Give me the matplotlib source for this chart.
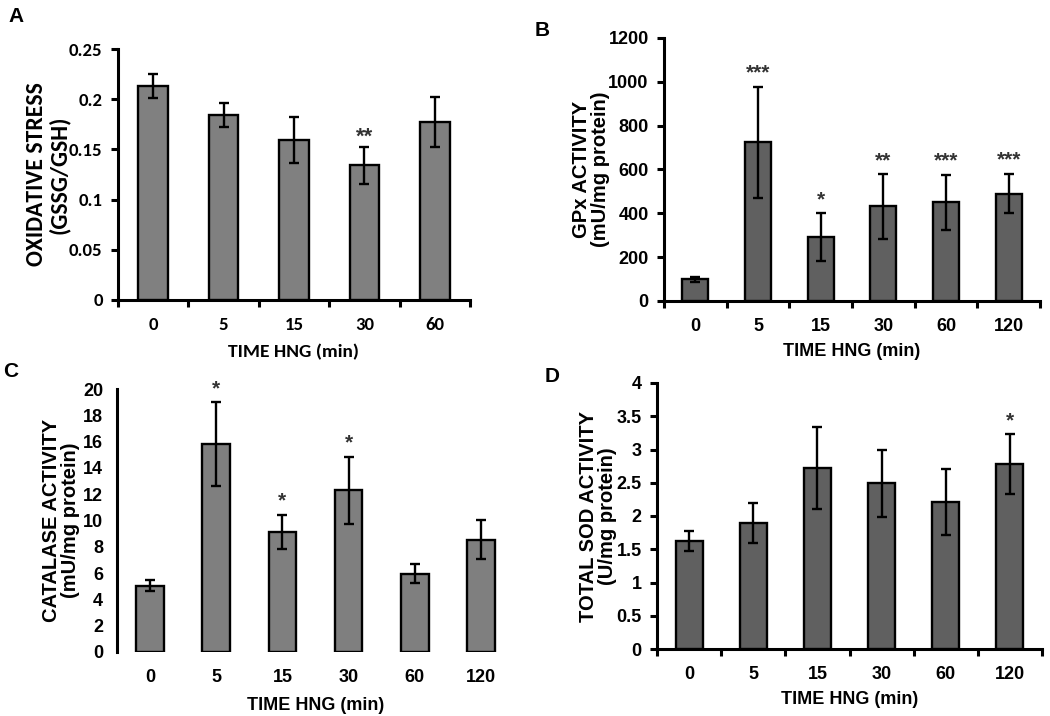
import matplotlib
matplotlib.use("Agg")
import matplotlib.pyplot as plt
from matplotlib import font_manager
from matplotlib.ticker import FixedLocator, NullFormatter

# ---------------- data ----------------
cats_a = ["0", "5", "15", "30", "60"]
vals_a = [0.213, 0.184, 0.159, 0.134, 0.177]
errs_a = [0.012, 0.012, 0.023, 0.018, 0.025]
stars_a = ["", "", "", "**", ""]

cats_b = ["0", "5", "15", "30", "60", "120"]
vals_b = [99, 725, 292, 432, 450, 490]
errs_b = [12, 253, 108, 147, 127, 90]
stars_b = ["", "***", "*", "**", "***", "***"]

cats_c = ["0", "5", "15", "30", "60", "120"]
vals_c = [5.05, 15.8, 9.15, 12.3, 5.95, 8.55]
errs_c = [0.42, 3.2, 1.3, 2.55, 0.72, 1.5]
stars_c = ["", "*", "*", "*", "", ""]

cats_d = ["0", "5", "15", "30", "60", "120"]
vals_d = [1.63, 1.90, 2.72, 2.49, 2.21, 2.78]
errs_d = [0.15, 0.30, 0.62, 0.50, 0.50, 0.45]
stars_d = ["", "", "", "", "", "*"]

# ---------------- fonts ----------------
avail = {f.name for f in font_manager.fontManager.ttflist}
def pick(*names):
    for n in names:
        if n in avail:
            return n
    return "DejaVu Sans"
FONT_A = pick("Carlito", "Lato", "Open Sans")
FONT_N = pick("Liberation Sans Narrow", "Liberation Sans", "Arial")

W, H = 1050, 716
fig = plt.figure(figsize=(W / 100, H / 100), dpi=100)

def rect(l, r, t, b):
    return [l / W, 1 - b / H, (r - l) / W, (b - t) / H]


def panel(box, cats, vals, errs, stars, ymax, yticks, yticklabels, color,
          ylabel, font, fs_tick, fs_ylabel, fs_xlabel, label_right,
          xaxis=True, ticks=True, star_off=3, xlabelpad=6, star_font=None,
          star_fs=15, linespacing=1.0):
    ax = fig.add_axes(rect(*box))
    x = list(range(len(cats)))
    ax.bar(x, vals, width=0.42, color=color, edgecolor="black", linewidth=1.7,
           yerr=errs, error_kw=dict(ecolor="black", elinewidth=1.7,
                                    capsize=3.5, capthick=1.7), zorder=3)
    for xi, v, e, s in zip(x, vals, errs, stars):
        if s:
            ax.annotate(s, (xi, v + e), xytext=(0, star_off),
                        textcoords="offset points", ha="center", va="bottom",
                        fontsize=star_fs, fontfamily=star_font or font,
                        fontweight="bold", color="#333333")
    ax.set_xlim(-0.5, len(cats) - 0.5)
    ax.set_ylim(0, ymax)
    ax.set_yticks(yticks)
    ax.set_yticklabels(yticklabels, fontfamily=font, fontweight="bold",
                       fontsize=fs_tick)
    ax.set_xticks(x)
    ax.set_xticklabels(cats, fontfamily=font, fontweight="bold",
                       fontsize=fs_tick)
    for sp in ("top", "right"):
        ax.spines[sp].set_visible(False)
    ax.spines["left"].set_linewidth(2.2)
    ax.spines["bottom"].set_linewidth(2.2)
    ax.tick_params(axis="x", which="major", length=0, pad=12)
    if ticks:
        ax.tick_params(axis="y", which="major", length=5, width=2.2, pad=6)
        ax.xaxis.set_minor_locator(FixedLocator([i - 0.5 for i in range(len(cats) + 1)]))
        ax.xaxis.set_minor_formatter(NullFormatter())
        ax.tick_params(axis="x", which="minor", length=5, width=2.2)
    else:
        ax.tick_params(axis="y", which="major", length=0, pad=10)
    if not xaxis:
        ax.spines["bottom"].set_visible(False)
    ax.set_ylabel(ylabel, fontfamily=font, fontweight="bold",
                  fontsize=fs_ylabel, linespacing=linespacing)
    l, r = box[0], box[1]
    ax.yaxis.set_label_coords((label_right - l) / (r - l), 0.5)
    ax.set_xlabel("TIME HNG (min)", fontfamily=font, fontweight="bold",
                  fontsize=fs_xlabel, labelpad=xlabelpad)
    return ax

# Panel A
axA = panel((118, 470, 49, 300), cats_a, vals_a, errs_a, stars_a, 0.25,
            [0, 0.05, 0.1, 0.15, 0.2, 0.25],
            ["0", "0.05", "0.1", "0.15", "0.2", "0.25"],
            "#808080", "OXIDATIVE STRESS\n(GSSG/GSH)", FONT_A, 13.5, 17, 14,
            label_right=70, star_off=0, xlabelpad=8, star_font=FONT_N,
            star_fs=16, linespacing=1.05)

# Panel B
axB = panel((664, 1040, 38, 301), cats_b, vals_b, errs_b, stars_b, 1200,
            [0, 200, 400, 600, 800, 1000, 1200],
            ["0", "200", "400", "600", "800", "1000", "1200"],
            "#606060", "GPx ACTIVITY\n(mU/mg protein)", FONT_N, 13, 14.5, 13,
            label_right=610)

# Panel C
axC = panel((117, 514, 389, 652), cats_c, vals_c, errs_c, stars_c, 20,
            list(range(0, 21, 2)), [str(v) for v in range(0, 21, 2)],
            "#7f7f7f", "CATALASE ACTIVITY\n(mU/mg protein)", FONT_N, 13, 14.5, 13,
            label_right=80, xaxis=False, ticks=False, xlabelpad=8)

# Panel D
axD = panel((657, 1042, 383, 649), cats_d, vals_d, errs_d, stars_d, 4,
            [0, 0.5, 1, 1.5, 2, 2.5, 3, 3.5, 4],
            ["0", "0.5", "1", "1.5", "2", "2.5", "3", "3.5", "4"],
            "#606060", "TOTAL SOD ACTIVITY\n(U/mg protein)", FONT_N, 13, 14.5, 13,
            label_right=617)

# panel letters
fig.text(8 / W, 1 - 16 / H, "A", fontsize=15, fontweight="bold", va="center",
         fontfamily="Liberation Sans")
fig.text(535 / W, 1 - 30 / H, "B", fontsize=15, fontweight="bold", va="center",
         fontfamily="Liberation Sans")
fig.text(3 / W, 1 - 372 / H, "C", fontsize=15, fontweight="bold", va="center",
         fontfamily="Liberation Sans")
fig.text(545 / W, 1 - 376 / H, "D", fontsize=15, fontweight="bold", va="center",
         fontfamily="Liberation Sans")

fig.savefig("out.png", dpi=100)
